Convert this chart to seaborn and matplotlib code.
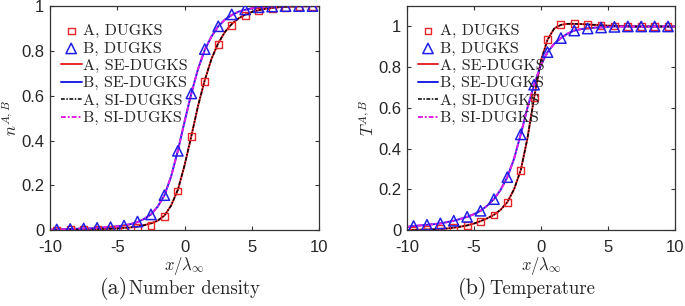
import numpy as np
import pandas as pd
import seaborn as sns
import matplotlib.pyplot as plt

# marker positions (DUGKS)
x_mk = [-9.5, -8.5, -7.5, -6.5, -5.5, -4.5, -3.5, -2.5, -1.5, -0.5,
        0.5, 1.5, 2.5, 3.5, 4.5, 5.5, 6.5, 7.5, 8.5, 9.5]
# line positions (SE / SI DUGKS)
x_ln = [-10, -9.5, -9, -8.5, -8, -7.5, -7, -6.5, -6, -5.5, -5, -4.5, -4, -3.5,
        -3, -2.5, -2, -1.5, -1, -0.5, 0, 0.5, 1, 1.5, 2, 2.5, 3, 3.5, 4, 4.5,
        5, 5.5, 6, 6.5, 7, 7.5, 8, 8.5, 9, 9.5, 10]

# (a) number density
nA_mk = [0.0, 0.001, 0.002, 0.003, 0.005, 0.008, 0.012, 0.022, 0.06, 0.175,
         0.417, 0.665, 0.83, 0.915, 0.957, 0.978, 0.99, 0.995, 0.999, 1.0]
nB_mk = [0.003, 0.005, 0.007, 0.01, 0.013, 0.02, 0.038, 0.07, 0.156, 0.354,
         0.61, 0.808, 0.91, 0.963, 0.985, 0.995, 0.998, 1.0, 1.0, 1.0]
nA_ln = [0.0, 0.001, 0.001, 0.002, 0.002, 0.003, 0.003, 0.004, 0.005, 0.006,
         0.008, 0.01, 0.012, 0.016, 0.022, 0.03, 0.042, 0.065, 0.11, 0.18,
         0.29, 0.42, 0.555, 0.67, 0.765, 0.835, 0.885, 0.92, 0.945, 0.962,
         0.974, 0.982, 0.988, 0.992, 0.995, 0.997, 0.998, 0.999, 0.999, 1.0, 1.0]
nB_ln = [0.002, 0.003, 0.004, 0.005, 0.006, 0.007, 0.008, 0.01, 0.012, 0.014,
         0.017, 0.021, 0.027, 0.036, 0.05, 0.07, 0.105, 0.155, 0.24, 0.355,
         0.485, 0.61, 0.72, 0.805, 0.865, 0.91, 0.94, 0.96, 0.975, 0.984,
         0.99, 0.994, 0.996, 0.998, 0.999, 1.0, 1.0, 1.0, 1.0, 1.0, 1.0]

# (b) temperature
TA_mk = [0.0, 0.003, 0.006, 0.012, 0.023, 0.044, 0.074, 0.137, 0.294, 0.65,
         0.935, 1.008, 1.013, 1.01, 1.005, 1.002, 1.001, 1.0, 1.0, 1.0]
TB_mk = [0.02, 0.026, 0.033, 0.046, 0.065, 0.095, 0.152, 0.26, 0.47, 0.714,
         0.874, 0.943, 0.98, 0.99, 0.995, 0.998, 1.0, 1.0, 1.0, 1.0]
TA_ln = [0.0, 0.001, 0.002, 0.003, 0.004, 0.006, 0.008, 0.012, 0.017, 0.023,
         0.032, 0.044, 0.058, 0.075, 0.1, 0.137, 0.2, 0.294, 0.45, 0.65,
         0.83, 0.935, 0.99, 1.008, 1.013, 1.013, 1.012, 1.01, 1.008, 1.006,
         1.004, 1.003, 1.002, 1.001, 1.0, 1.0, 1.0, 1.0, 1.0, 1.0, 1.0]
TB_ln = [0.015, 0.02, 0.023, 0.026, 0.029, 0.033, 0.039, 0.046, 0.055, 0.065,
         0.078, 0.095, 0.12, 0.152, 0.198, 0.26, 0.35, 0.47, 0.6, 0.714,
         0.81, 0.874, 0.915, 0.943, 0.965, 0.98, 0.987, 0.991, 0.994, 0.996,
         0.998, 1.0, 1.0, 1.0, 1.0, 1.0, 1.0, 1.0, 1.0, 1.0, 1.0]

labels = ["A, DUGKS", "B, DUGKS", "A, SE-DUGKS", "B, SE-DUGKS", "A, SI-DUGKS", "B, SI-DUGKS"]
yticks = [0, 0.2, 0.4, 0.6, 0.8, 1]
yticklabels = ["0", "0.2", "0.4", "0.6", "0.8", "1"]

sns.set_style("ticks")
plt.rcParams["font.family"] = ["Liberation Sans", "DejaVu Sans"]
plt.rcParams["mathtext.fontset"] = "cm"
plt.rcParams["axes.unicode_minus"] = False

fig = plt.figure(figsize=(6.85, 3.06), dpi=100)
ax1 = fig.add_axes([0.073, 0.248, 0.393, 0.732])
ax2 = fig.add_axes([0.594, 0.248, 0.391, 0.732])


def panel(ax, yA_mk, yB_mk, yA_ln, yB_ln, ylim, ylab):
    sns.scatterplot(x=x_mk, y=yA_mk, ax=ax, marker="s", s=24, facecolor="none",
                    edgecolor="#e8262a", linewidth=1.0, label=labels[0], zorder=5)
    sns.scatterplot(x=x_mk, y=yB_mk, ax=ax, marker="^", s=55, facecolor="none",
                    edgecolor="#1f1fe6", linewidth=1.1, label=labels[1], zorder=5)
    sns.lineplot(x=x_ln, y=yA_ln, ax=ax, color="#e8262a", lw=1.4, label=labels[2])
    sns.lineplot(x=x_ln, y=yB_ln, ax=ax, color="#1f1fe6", lw=1.4, label=labels[3])
    sns.lineplot(x=x_ln, y=yA_ln, ax=ax, color="black", lw=1.1, ls=(0, (2.5, 1, 1, 1)), label=labels[4])
    sns.lineplot(x=x_ln, y=yB_ln, ax=ax, color="#e61ee6", lw=1.4, ls=(0, (2.5, 1, 1, 1)), label=labels[5])
    ax.set_xlim(-10, 10)
    ax.set_ylim(*ylim)
    ax.set_xticks([-10, -5, 0, 5, 10])
    ax.set_yticks(yticks)
    ax.set_yticklabels(yticklabels)
    ax.tick_params(direction="in", top=True, right=True, labelsize=12, length=3, color="#333333")
    ax.tick_params(axis="x", pad=7)
    ax.tick_params(axis="y", pad=4)
    for sp in ax.spines.values():
        sp.set_visible(True)
        sp.set_color("#333333")
        sp.set_linewidth(0.9)
    ax.set_xlabel(r"$x/\lambda_\infty$", fontsize=12, labelpad=0)
    ax.set_ylabel(ylab, fontsize=12, labelpad=1)
    ax.legend(loc="upper left", bbox_to_anchor=(0.04, 0.92), frameon=False,
              prop={"family": "cmr10", "size": 11.5}, handlelength=1.3,
              handletextpad=0.1, labelspacing=0.2, borderaxespad=0, borderpad=0)


panel(ax1, nA_mk, nB_mk, nA_ln, nB_ln, (0, 1), r"$n^{A,B}$")
panel(ax2, TA_mk, TB_mk, TA_ln, TB_ln, (0, 1.1), r"$T^{A,B}$")

fig.text(0.187, 0.04, "(a)", fontsize=16, family="cmr10", ha="right", va="baseline")
fig.text(0.189, 0.04, "Number density", fontsize=13.5, family="cmr10", ha="left", va="baseline")
fig.text(0.712, 0.04, "(b)", fontsize=16, family="cmr10", ha="right", va="baseline")
fig.text(0.714, 0.04, "Temperature", fontsize=13.5, family="cmr10", ha="left", va="baseline")

fig.savefig("out.png", dpi=100)
